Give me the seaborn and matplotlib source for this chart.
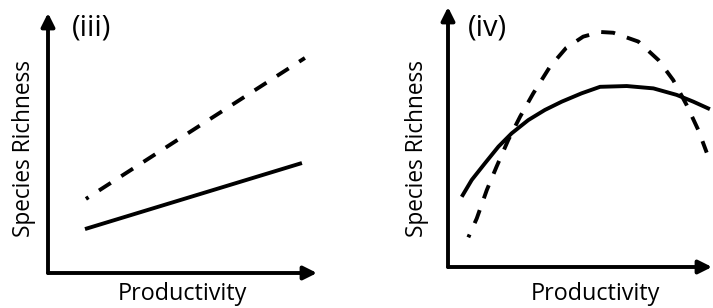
import matplotlib
matplotlib.use("Agg")
import matplotlib.pyplot as plt
import seaborn as sns
import pandas as pd

sns.set_theme(style="white")
plt.rcParams['font.family'] = ['Open Sans', 'DejaVu Sans']

# Panel (iii): linear relationships (arbitrary units 0-10)
iii_prod = [1.375, 9.44]
iii_solid = [1.69, 4.23]
iii_prod_d = [1.41, 9.55]
iii_dashed = [2.85, 8.27]

# Panel (iv): hump-shaped relationships
iv_prod_s = [0.52, 0.90, 1.40, 1.91, 2.41, 3.04, 3.67, 4.31, 5.06, 5.76, 6.77, 7.78, 8.66, 9.29, 9.92]
iv_solid = [2.70, 3.35, 3.99, 4.63, 5.14, 5.65, 6.04, 6.36, 6.68, 6.93, 6.96, 6.87, 6.62, 6.36, 6.07]
iv_prod_d = [0.77, 1.09, 1.47, 1.84, 2.28, 2.73, 3.23, 3.86, 4.47, 5.12, 5.76, 6.26, 7.21, 7.97, 8.53, 9.04, 9.48, 9.80]
iv_dashed = [1.14, 1.87, 2.96, 3.86, 4.88, 5.78, 6.68, 7.70, 8.42, 8.86, 9.04, 9.01, 8.67, 7.96, 7.19, 6.23, 5.27, 4.40]

titles = ["(iii)", "(iv)"]
xlabel = "Productivity"
ylabel = "Species Richness"

W, H = 713, 308
fig = plt.figure(figsize=(W / 100, H / 100), dpi=100)

def px_axes(left, bottom, right, top):
    return fig.add_axes([left / W, 1 - bottom / H, (right - left) / W, (bottom - top) / H])

ax1 = px_axes(48, 273, 317, 13)
ax2 = px_axes(448, 267, 712, 7)

df1 = pd.DataFrame({
    "x": iii_prod + iii_prod_d,
    "y": iii_solid + iii_dashed,
    "kind": ["solid"] * len(iii_prod) + ["dashed"] * len(iii_prod_d),
})
df2 = pd.DataFrame({
    "x": iv_prod_s + iv_prod_d,
    "y": iv_solid + iv_dashed,
    "kind": ["solid"] * len(iv_prod_s) + ["dashed"] * len(iv_prod_d),
})

LW = 2.8
dash_map = {"solid": "", "dashed": (3.6, 3.2)}
for ax, df in [(ax1, df1), (ax2, df2)]:
    sns.lineplot(data=df, x="x", y="y", style="kind", dashes=dash_map,
                 color="black", linewidth=LW, sort=False, estimator=None,
                 legend=False, ax=ax)
    for ln in ax.lines:
        ln.set_solid_capstyle("butt")
        ln.set_solid_joinstyle("round")
        if len(ln.get_xdata()) and list(ln.get_xdata())[0] in (iii_prod_d[0], iv_prod_d[0]):
            ln.set_linestyle((2.8, (3.6, 3.2)))
    ax.set_xlim(0, 10)
    ax.set_ylim(0, 10)
    ax.set_xticks([])
    ax.set_yticks([])
    for s in ax.spines.values():
        s.set_visible(False)
    ax.patch.set_alpha(0)
    ax.annotate("", xy=(1, 0), xytext=(0, 0), xycoords="axes fraction",
                arrowprops=dict(arrowstyle="-|>", lw=LW, color="black",
                                mutation_scale=20, shrinkA=0, shrinkB=0))
    ax.annotate("", xy=(0, 1), xytext=(0, 0), xycoords="axes fraction",
                arrowprops=dict(arrowstyle="-|>", lw=LW, color="black",
                                mutation_scale=20, shrinkA=0, shrinkB=0))
    ax.set_xlabel(xlabel, fontsize=16.8, color="black")
    ax.set_ylabel(ylabel, fontsize=16.3, color="black")

ax1.xaxis.set_label_coords(0.5, -0.035)
ax1.yaxis.set_label_coords(-0.045, 0.477)
ax2.xaxis.set_label_coords(0.557, -0.058)
ax2.yaxis.set_label_coords(-0.072, 0.454)

ax1.text(0.089, 0.942, titles[0], transform=ax1.transAxes, ha="left", va="center",
         fontsize=21, color="black")
ax2.text(0.076, 0.919, titles[1], transform=ax2.transAxes, ha="left", va="center",
         fontsize=21, color="black")

fig.savefig("out.png", dpi=100)
